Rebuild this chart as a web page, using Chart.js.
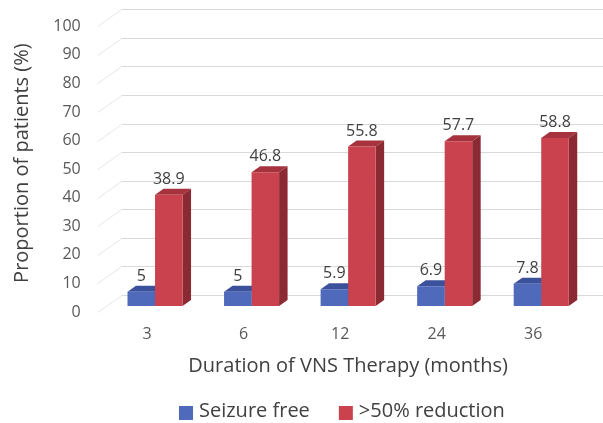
<!DOCTYPE html>
<html>
<head>
<meta charset="utf-8">
<script src="https://cdn.jsdelivr.net/npm/chart.js@4/dist/chart.umd.min.js"></script>
<style>
html,body{margin:0;padding:0;background:#fff;}
#wrap{width:603px;height:423px;position:relative;}
</style>
</head>
<body>
<div id="wrap"><canvas id="c" width="603" height="423"></canvas></div>
<script>
const categories = ['3', '6', '12', '24', '36'];
const seizureFree = [5, 5, 5.9, 6.9, 7.8];
const reduction50 = [38.9, 46.8, 55.8, 57.7, 58.8];
const seriesNames = ['Seizure free', '>50% reduction'];
const yTitle = 'Proportion of patients (%)';
const xTitle = 'Duration of VNS Therapy (months)';

const FONT = '"Open Sans", Lato, sans-serif';
const DX = 8.5, DY = -6;
const faceColors = [
  {front: '#4f69bb', top: '#3c519c', side: '#34478a'},
  {front: '#c9424e', top: '#a5323c', side: '#8b2a33'}
];

const depthPlugin = {
  id: 'depth',
  beforeDatasetsDraw(chart) {
    const ctx = chart.ctx;
    const y = chart.scales.y;
    const area = chart.chartArea;
    ctx.save();
    y.ticks.forEach(t => {
      const py = Math.round(y.getPixelForValue(t.value)) + 0.5;
      ctx.strokeStyle = '#e6e6e6';
      ctx.lineWidth = 1;
      ctx.beginPath();
      ctx.moveTo(area.left - 9, py + 6);
      ctx.lineTo(area.left + 15, py - 11);
      ctx.stroke();
      ctx.strokeStyle = '#d9d9d9';
      ctx.beginPath();
      ctx.moveTo(area.left + 15, py - 11);
      ctx.lineTo(chart.width, py - 11);
      ctx.stroke();
    });
    chart.data.datasets.forEach((ds, di) => {
      const meta = chart.getDatasetMeta(di);
      const col = faceColors[di];
      meta.data.forEach(bar => {
        const l = bar.x - bar.width / 2, r = bar.x + bar.width / 2;
        const t = bar.y, b = bar.base;
        ctx.fillStyle = col.top;
        ctx.beginPath();
        ctx.moveTo(l, t); ctx.lineTo(l + DX, t + DY); ctx.lineTo(r + DX, t + DY); ctx.lineTo(r, t);
        ctx.closePath(); ctx.fill();
        ctx.fillStyle = col.side;
        ctx.beginPath();
        ctx.moveTo(r, t); ctx.lineTo(r + DX, t + DY); ctx.lineTo(r + DX, b + DY); ctx.lineTo(r, b);
        ctx.closePath(); ctx.fill();
      });
    });
    ctx.restore();
  },
  afterDatasetsDraw(chart) {
    const ctx = chart.ctx;
    ctx.save();
    ctx.font = '16px ' + FONT;
    ctx.fillStyle = '#404040';
    ctx.textAlign = 'center';
    ctx.textBaseline = 'middle';
    chart.data.datasets.forEach((ds, di) => {
      const meta = chart.getDatasetMeta(di);
      meta.data.forEach((bar, i) => {
        ctx.fillText(String(ds.data[i]), bar.x, bar.y - 15.5);
      });
    });
    ctx.restore();
  },
  afterDraw(chart) {
    const ctx = chart.ctx;
    ctx.save();
    ctx.font = '20px ' + FONT;
    ctx.textBaseline = 'middle';
    ctx.textAlign = 'left';
    let x = 179;
    chart.data.datasets.forEach((ds, di) => {
      ctx.fillStyle = faceColors[di].front;
      ctx.fillRect(x, 406, 14, 14);
      ctx.fillStyle = '#404040';
      ctx.fillText(ds.label, x + 20, 411);
      x += 20 + ctx.measureText(ds.label).width + 29;
    });
    ctx.restore();
  }
};

new Chart(document.getElementById('c'), {
  type: 'bar',
  data: {
    labels: categories,
    datasets: [
      {label: seriesNames[0], data: seizureFree, backgroundColor: faceColors[0].front, borderWidth: 0},
      {label: seriesNames[1], data: reduction50, backgroundColor: faceColors[1].front, borderWidth: 0}
    ]
  },
  options: {
    responsive: false,
    animation: false,
    devicePixelRatio: 1,
    layout: {padding: {top: 20.3, right: 13.5, bottom: 37, left: 0}},
    datasets: {bar: {barPercentage: 1, categoryPercentage: 0.57}},
    plugins: {legend: {display: false}, tooltip: {enabled: false}},
    scales: {
      x: {
        grid: {display: false, drawTicks: false},
        border: {display: false},
        ticks: {color: '#595959', font: {family: FONT, size: 16}, padding: 19, labelOffset: -8},
        title: {display: true, text: xTitle, color: '#404040', font: {family: FONT, size: 20}, padding: {top: 0, bottom: 8}},
        afterFit(s) { s.height = 80; s.paddingLeft = 0; s.paddingRight = 0; }
      },
      y: {
        min: 0, max: 100,
        grid: {display: false, drawTicks: false},
        border: {display: false},
        ticks: {stepSize: 10, color: '#595959', font: {family: FONT, size: 16}, padding: 26, labelOffset: 6},
        title: {display: true, text: yTitle, color: '#404040', font: {family: FONT, size: 20}, padding: {top: 10, bottom: 0}},
        afterFit(s) { s.width = 106.75; s.paddingTop = 0; s.paddingBottom = 0; }
      }
    }
  },
  plugins: [depthPlugin]
});
</script>
</body>
</html>
